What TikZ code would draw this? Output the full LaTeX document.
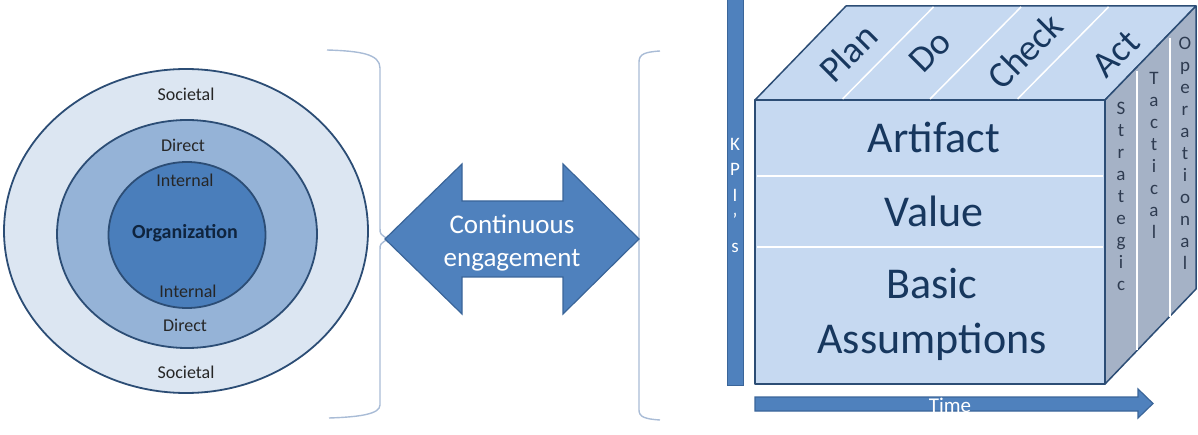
\documentclass[tikz,border=0pt]{standalone}
\usepackage{fontspec}
\setmainfont{Carlito}
\usetikzlibrary{shapes.geometric}

\definecolor{ringA}{HTML}{DCE6F2}
\definecolor{ringB}{HTML}{95B3D7}
\definecolor{ringC}{HTML}{4A7EBB}
\definecolor{edge}{HTML}{2C4D75}
\definecolor{accent}{HTML}{4F81BD}
\definecolor{accentedge}{HTML}{3A6599}
\definecolor{face}{HTML}{C6D9F1}
\definecolor{side}{HTML}{A5B2C6}
\definecolor{ink}{HTML}{17375E}
\definecolor{orgink}{HTML}{0F243E}
\definecolor{sideink}{HTML}{2E3B50}
\definecolor{bracecol}{HTML}{A9BCD6}

\begin{document}
\begin{tikzpicture}[x=1pt,y=-1pt,
  ring/.style={draw=edge, line width=1.8pt, ellipse, inner sep=0pt},
  ringlabel/.style={font=\fontsize{18}{20}\selectfont, text=black!85, inner sep=0pt},
  bracket/.style={draw=bracecol, line width=1.4pt},
  bluearrow/.style={fill=accent, draw=accentedge, line width=1.2pt, line join=miter},
  cubeface/.style={fill=face, draw=edge, line width=1.5pt, line join=round},
  cubeside/.style={fill=side, draw=edge, line width=1.5pt, line join=round},
  divider/.style={draw=white, line width=1.5pt},
  facetext/.style={font=\fontsize{44}{55}\selectfont, text=ink, align=center},
  toptext/.style={font=\fontsize{37}{37}\selectfont, text=ink, rotate=45, inner sep=0pt},
  sidetext/.style={font=\fontsize{19}{22}\selectfont, text=sideink, align=center, inner sep=0pt},
]
\useasboundingbox (0,0) rectangle (1198,435);

% ---- nested stakeholder rings ----
\node[ring, fill=ringA, minimum width=364pt, minimum height=324pt] (societal) at (186,231) {};
\node[ring, fill=ringB, minimum width=260pt, minimum height=228pt] (direct) at (187,234) {};
\node[ring, fill=ringC, minimum width=157pt, minimum height=146pt] (internal) at (187,235) {};

\node[ringlabel] (socT) at (186,94) {Societal};
\node[ringlabel] (socB) at (186,372) {Societal};
\node[ringlabel] (dirT) at (183,145) {Direct};
\node[ringlabel] (dirB) at (185,325) {Direct};
\node[ringlabel] (intT) at (185,180) {Internal};
\node[ringlabel] (intB) at (188,291) {Internal};
\node[font=\bfseries\fontsize{20}{22}\selectfont, text=orgink] (org) at (185,233) {Organization};

% ---- brackets ----
\draw[bracket] (327,50) .. controls (360,51) and (380,54) .. (380,68)
  -- (380,228) .. controls (380,234) .. (388,239)
  .. controls (380,244) .. (380,250)
  -- (380,405) .. controls (380,414) and (360,417) .. (329,418);
\draw[bracket] (660,51) .. controls (645,52) and (639,54) .. (639,62)
  -- (639,410) .. controls (639,417) and (645,419) .. (660,420);

% ---- two-way engagement arrow ----
\draw[bluearrow] (385,239) -- (462,164) -- (462,201) -- (563,201) -- (563,164)
  -- (639,239) -- (563,314) -- (563,277) -- (462,277) -- (462,314) -- cycle;
\node[text=white, align=center, font=\fontsize{27}{33}\selectfont] (engage) at (512,243)
  {Continuous\\engagement};

% ---- KPI axis ----
\draw[fill=accent, draw=accentedge, line width=1pt] (727,-2) rectangle (743,385);
\node[text=white, align=center, font=\fontsize{19}{25.5}\selectfont, inner sep=0pt] (kpi) at (735,195)
  {K\\P\\I\\’\\s};

% ---- time axis ----
\draw[bluearrow] (755,397) -- (1138,397) -- (1138,389) -- (1153,403.5) -- (1138,418)
  -- (1138,411) -- (755,411) -- cycle;
\node[text=white, font=\fontsize{21}{21}\selectfont, inner sep=0pt] (time) at (950,405) {Time};

% ---- culture cube ----
\draw[cubeface] (755,100) rectangle (1105,384);
\draw[cubeface] (755,100) -- (846,6) -- (1196,6) -- (1105,100) -- cycle;
\draw[cubeside] (1105,100) -- (1196,6) -- (1196,289) -- (1105,384) -- cycle;

% front layers
\draw[divider] (757,176) -- (1103,176);
\draw[divider] (757,247) -- (1103,247);
% PDCA slices on top
\foreach \k in {1,2,3}
  \draw[divider] ({755+87.5*\k},99) -- ({846+87.5*\k},7);
% levels on the side
\draw[divider] (1137,71) -- (1137,350);
\draw[divider] (1170,38) -- (1170,317);

\node[facetext] (artifact) at (934,137) {Artifact};
\node[facetext] (value) at (934,211) {Value};
\node[facetext] (basic) at (932,314) {Basic\\Assumptions};

\node[toptext] (plan) at (848,53) {Plan};
\node[toptext] (do) at (930,51) {Do};
\node[toptext] (check) at (1025,51) {Check};
\node[toptext] (act) at (1116,54) {Act};

\node[sidetext] (strat) at (1121,196) {S\\t\\r\\a\\t\\e\\g\\i\\c};
\node[sidetext] (tact) at (1154,155) {T\\a\\c\\t\\i\\c\\a\\l};
\node[sidetext] (oper) at (1185,153) {O\\p\\e\\r\\a\\t\\i\\o\\n\\a\\l};
\end{tikzpicture}
\end{document}
